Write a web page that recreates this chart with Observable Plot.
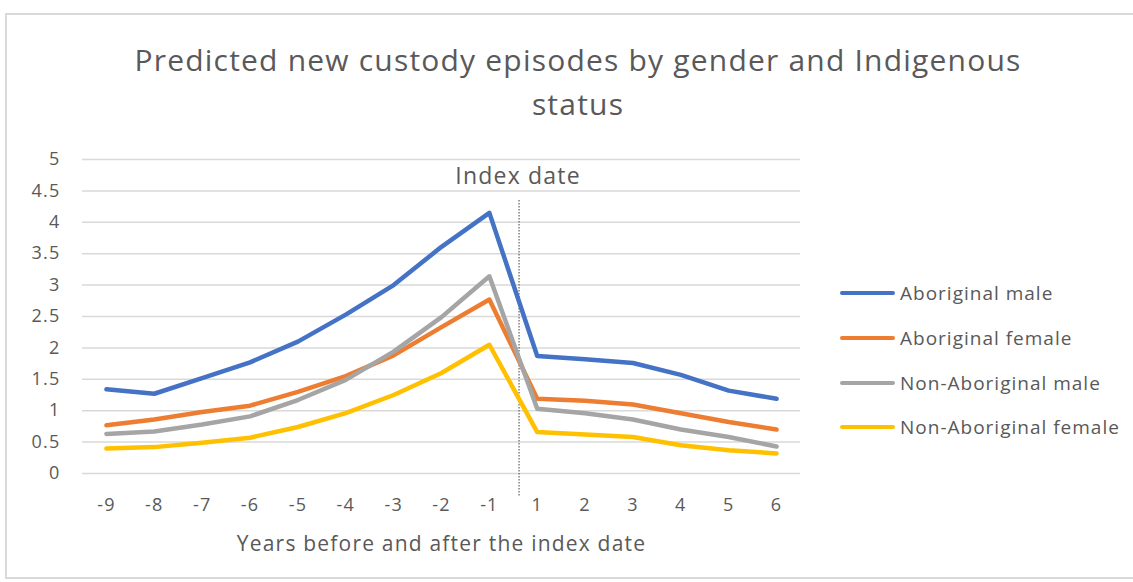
<!DOCTYPE html>
<html>
<head>
<meta charset="utf-8">
<script src="https://cdn.jsdelivr.net/npm/d3@7"></script>
<script src="https://cdn.jsdelivr.net/npm/@observablehq/plot@0.6"></script>
<style>
  html, body { margin: 0; padding: 0; background: #fff; overflow: hidden; }
  #wrap { position: relative; width: 1133px; height: 582px; font-family: "Open Sans", sans-serif; color: #595959; }
  #frame { position: absolute; left: 5px; top: 13px; width: 1140px; height: 566px; border: 2px solid #d9d9d9; box-sizing: border-box; }
  #title { position: absolute; left: 0; width: 1156px; top: 38px; text-align: center; font-size: 30px; letter-spacing: 1.2px; line-height: 44px; color: #595959; }
  #chart { position: absolute; left: 0; top: 0; }
  #legend { position: absolute; left: 840px; top: 0; }
  .item { position: absolute; left: 0; white-space: nowrap; font-size: 19px; letter-spacing: 1px; color: #595959; display: flex; align-items: center; }
  .sw { width: 55px; height: 4.5px; border-radius: 3px; margin-right: 5px; }
</style>
</head>
<body>
<div id="wrap">
  <div id="frame"></div>
  <div id="chart"></div>
  <div id="title"></div>
  <div id="legend"></div>
</div>
<script>
const titleLines = ["Predicted new custody episodes by gender and Indigenous", "status"];
const xLabels = ["-9","-8","-7","-6","-5","-4","-3","-2","-1","1","2","3","4","5","6"];
const yTicks = [0,0.5,1,1.5,2,2.5,3,3.5,4,4.5,5];
const seriesNames = ["Aboriginal male","Aboriginal female","Non-Aboriginal male","Non-Aboriginal female"];
const seriesColors = ["#4472C4","#ED7D31","#A5A5A5","#FFC000"];
const aboriginalMale = [1.34,1.27,1.52,1.77,2.10,2.53,3.00,3.61,4.15,1.87,1.82,1.76,1.57,1.32,1.19];
const aboriginalFemale = [0.77,0.86,0.98,1.08,1.30,1.55,1.88,2.33,2.77,1.19,1.16,1.10,0.96,0.82,0.70];
const nonAboriginalMale = [0.63,0.67,0.78,0.91,1.17,1.49,1.94,2.49,3.14,1.03,0.96,0.86,0.70,0.58,0.43];
const nonAboriginalFemale = [0.40,0.42,0.49,0.57,0.74,0.96,1.25,1.60,2.05,0.66,0.62,0.58,0.45,0.37,0.32];
const indexDatePosition = 8.62; // between "-1" and "1"
const indexDateLabel = "Index date";
const xTitle = "Years before and after the index date";

const seriesValues = [aboriginalMale, aboriginalFemale, nonAboriginalMale, nonAboriginalFemale];
const rows = [];
seriesValues.forEach((vals, s) => vals.forEach((v, i) => rows.push({series: seriesNames[s], i, value: v})));

const titleEl = document.getElementById("title");
titleLines.forEach((t, k) => {
  if (k) titleEl.appendChild(document.createElement("br"));
  titleEl.appendChild(document.createTextNode(t));
});

const font = "Open Sans, sans-serif";
const plot = Plot.plot({
  width: 1133,
  height: 582,
  marginLeft: 82,
  marginRight: 333,
  marginTop: 159,
  marginBottom: 109,
  style: {fontFamily: font, color: "#595959", background: "transparent", overflow: "visible", letterSpacing: "1.2px"},
  x: {type: "linear", domain: [-0.5, xLabels.length - 0.5], label: null},
  y: {domain: [0, 5], label: null},
  color: {domain: seriesNames, range: seriesColors},
  marks: [
    Plot.ruleY(yTicks, {stroke: "#d9d9d9", strokeWidth: 1.5}),
    Plot.axisY({ticks: yTicks, tickSize: 0, tickPadding: 22, tickFormat: d => String(d), fontSize: 18, fill: "#595959", label: null}),
    Plot.axisX({ticks: d3.range(xLabels.length), tickFormat: i => xLabels[i], tickSize: 0, tickPadding: 25, fontSize: 18, fill: "#595959", label: null}),
    Plot.ruleX([indexDatePosition], {stroke: "#404040", strokeWidth: 1, strokeDasharray: "1.5,1.5", insetTop: 41, insetBottom: -24}),
    Plot.text([indexDateLabel], {x: [indexDatePosition - 0.02], frameAnchor: "top", lineAnchor: "middle", dy: 17, text: d => d, fontSize: 23, fill: "#595959"}),
    Plot.line(rows, {x: "i", y: "value", stroke: "series", strokeWidth: 4.5, z: "series"}),
    Plot.text([xTitle], {frameAnchor: "bottom", lineAnchor: "middle", dy: 71, text: d => d, fontSize: 21, fill: "#595959"})
  ]
});
document.getElementById("chart").appendChild(plot);

const legend = document.getElementById("legend");
const legendTops = [293, 338, 383, 427];
seriesNames.forEach((n, k) => {
  const it = document.createElement("div");
  it.className = "item";
  it.style.top = (legendTops[k] - 12) + "px";
  it.style.height = "24px";
  const sw = document.createElement("span");
  sw.className = "sw";
  sw.style.background = seriesColors[k];
  const tx = document.createElement("span");
  tx.textContent = n;
  it.appendChild(sw); it.appendChild(tx);
  legend.appendChild(it);
});
</script>
</body>
</html>
